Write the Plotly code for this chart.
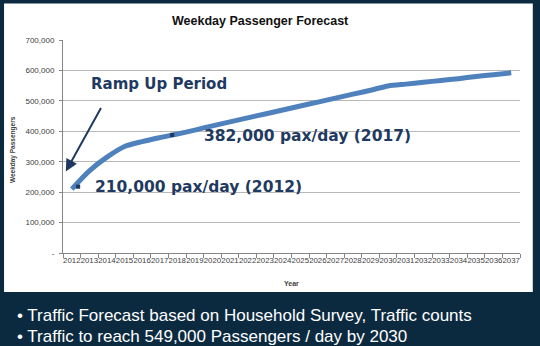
import plotly.graph_objects as go

years = [str(y) for y in range(2012, 2038)]
passengers = [210000, 270000, 315000, 350000, 366000, 379000, 391000, 404000,
              418000, 431000, 444000, 457000, 470000, 483000, 496000, 509000,
              522000, 535000, 549000, 555000, 561000, 567000, 573000, 580000,
              586000, 592000]
y_tickvals = [0, 100000, 200000, 300000, 400000, 500000, 600000, 700000]
y_ticktext = ["-", "100,000", "200,000", "300,000", "400,000", "500,000", "600,000", "700,000"]

callouts = [
    ("210,000 pax/day (2012)", 1.23, 217000),
    ("382,000 pax/day (2017)", 7.43, 384000),
]
marker_pos = [(0.357, 218000), (5.71, 388000)]

NAVY_BG = "#0b2a40"
LABEL = "#1f3a60"

fig = go.Figure()
fig.add_trace(go.Scatter(
    x=years, y=passengers, mode="lines",
    line=dict(color="#4f81bd", width=5, shape="spline", smoothing=0.7),
    showlegend=False, hoverinfo="skip"))

shapes = [dict(type="rect", xref="paper", yref="paper",
               x0=-0.129, x1=1.028, y0=-0.183, y1=1.171,
               fillcolor="white", line=dict(width=0), layer="below")]
for mx, my in marker_pos:
    shapes.append(dict(type="rect", xref="x", yref="y",
                       x0=mx - 0.12, x1=mx + 0.12, y0=my - 6800, y1=my + 6800,
                       fillcolor=LABEL, line=dict(width=0)))

annotations = [
    dict(text="<b>Weekday Passenger Forecast</b>", xref="paper", yref="paper",
         x=0.433, y=1.0906, xanchor="center", yanchor="middle", showarrow=False,
         font=dict(family="Liberation Sans", size=12.5, color="#111111")),
    dict(text="<b>Weekday Passengers</b>", xref="paper", yref="paper",
         x=-0.109, y=0.484, textangle=-90, xanchor="center", yanchor="middle",
         showarrow=False, font=dict(family="Liberation Sans", size=6.5, color="#404040")),
    dict(text="<b>Year</b>", xref="paper", yref="paper",
         x=0.5, y=-0.141, xanchor="center", yanchor="middle", showarrow=False,
         font=dict(family="Liberation Sans", size=7, color="#404040")),
    dict(text="<b>Ramp Up Period</b>", xref="x", yref="y", x=1.0, y=555000,
         xanchor="left", yanchor="middle", showarrow=False,
         font=dict(family="DejaVu Sans", size=15, color=LABEL)),
    dict(text="", xref="x", yref="y", x=-0.34, y=268000, ax=36, ay=-65,
         showarrow=True, arrowhead=2, arrowsize=1.2, arrowwidth=2, arrowcolor=LABEL),
    dict(text="• Traffic Forecast based on Household Survey, Traffic counts",
         xref="paper", yref="paper", x=(15 - 63) / 457, y=(253 - 315.5) / 213,
         xanchor="left", yanchor="middle", showarrow=False,
         font=dict(family="Liberation Sans", size=17, color="white")),
    dict(text="• Traffic to reach 549,000 Passengers / day by 2030",
         xref="paper", yref="paper", x=(15 - 63) / 457, y=(253 - 336) / 213,
         xanchor="left", yanchor="middle", showarrow=False,
         font=dict(family="Liberation Sans", size=17, color="white")),
]
for txt, cx, cy in callouts:
    annotations.append(dict(text="<b>" + txt + "</b>", xref="x", yref="y", x=cx, y=cy,
                            xanchor="left", yanchor="middle", showarrow=False,
                            font=dict(family="DejaVu Sans", size=15.5, color=LABEL)))

fig.update_layout(
    width=540, height=346,
    margin=dict(l=63, r=20, t=40, b=93, pad=0),
    paper_bgcolor=NAVY_BG, plot_bgcolor="rgba(0,0,0,0)",
    shapes=shapes, annotations=annotations,
    xaxis=dict(type="category", range=[-0.5, len(years) - 0.5], autorange=False,
               tickson="boundaries", ticks="outside", ticklen=4,
               tickcolor="#868686", showgrid=False, showline=True, linecolor="#868686",
               tickfont=dict(family="Liberation Sans", size=7.8, color="#404040"),
               tickangle=0, fixedrange=True),
    yaxis=dict(range=[0, 700000], autorange=False, tickvals=y_tickvals, ticktext=y_ticktext,
               ticks="outside", ticklen=3, tickcolor="#868686",
               showgrid=True, gridcolor="#b8b8b8", gridwidth=1,
               showline=True, linecolor="#868686", zeroline=False,
               tickfont=dict(family="Liberation Sans", size=8, color="#404040"),
               ticklabelstandoff=3),
)

fig.write_html("out.html")
